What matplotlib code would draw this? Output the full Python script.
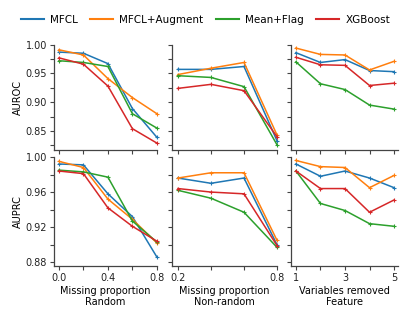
import matplotlib
matplotlib.use("Agg")
import matplotlib.pyplot as plt

methods = ["MFCL", "MFCL+Augment", "Mean+Flag", "XGBoost"]
colors = ["#1f77b4", "#ff7f0e", "#2ca02c", "#d62728"]

x_random = [0.0, 0.2, 0.4, 0.6, 0.8]
x_nonrandom = [0.2, 0.4, 0.6, 0.8]
x_feature = [1, 2, 3, 4, 5]

# AUROC
auroc_random = {
    "MFCL":         [0.987, 0.985, 0.967, 0.889, 0.839],
    "MFCL+Augment": [0.991, 0.982, 0.941, 0.908, 0.880],
    "Mean+Flag":    [0.972, 0.969, 0.962, 0.880, 0.855],
    "XGBoost":      [0.977, 0.966, 0.928, 0.854, 0.829],
}
auroc_nonrandom = {
    "MFCL":         [0.957, 0.957, 0.962, 0.833],
    "MFCL+Augment": [0.948, 0.959, 0.969, 0.843],
    "Mean+Flag":    [0.946, 0.943, 0.927, 0.826],
    "XGBoost":      [0.924, 0.931, 0.920, 0.840],
}
auroc_feature = {
    "MFCL":         [0.986, 0.969, 0.974, 0.955, 0.953],
    "MFCL+Augment": [0.994, 0.983, 0.982, 0.956, 0.971],
    "Mean+Flag":    [0.970, 0.932, 0.922, 0.895, 0.888],
    "XGBoost":      [0.978, 0.965, 0.964, 0.929, 0.933],
}

# AUPRC
auprc_random = {
    "MFCL":         [0.992, 0.991, 0.958, 0.932, 0.886],
    "MFCL+Augment": [0.995, 0.988, 0.952, 0.929, 0.902],
    "Mean+Flag":    [0.985, 0.983, 0.977, 0.927, 0.903],
    "XGBoost":      [0.984, 0.981, 0.942, 0.921, 0.904],
}
auprc_nonrandom = {
    "MFCL":         [0.976, 0.970, 0.976, 0.900],
    "MFCL+Augment": [0.976, 0.982, 0.982, 0.905],
    "Mean+Flag":    [0.962, 0.953, 0.937, 0.897],
    "XGBoost":      [0.964, 0.960, 0.958, 0.899],
}
auprc_feature = {
    "MFCL":         [0.992, 0.978, 0.984, 0.976, 0.965],
    "MFCL+Augment": [0.996, 0.989, 0.988, 0.965, 0.979],
    "Mean+Flag":    [0.984, 0.947, 0.939, 0.924, 0.921],
    "XGBoost":      [0.984, 0.964, 0.964, 0.937, 0.951],
}

plt.rcParams["font.family"] = "DejaVu Sans"
plt.rcParams["font.size"] = 7

fig = plt.figure(figsize=(4.15, 3.09), dpi=100)

cols = [(0.130, 0.248), (0.4145, 0.253), (0.701, 0.258)]
rows = [(0.5146, 0.341), (0.139, 0.353)]

xs = [x_random, x_nonrandom, x_feature]
xlims = [(-0.041, 0.8), (0.164, 0.8), (0.796, 5.16)]
xticks = [[0.0, 0.2, 0.4, 0.6, 0.8], [0.2, 0.4, 0.6, 0.8], [1, 2, 3, 4, 5]]
xticklabels = [["0.0", "", "0.4", "", "0.8"], ["0.2", "", "", "0.8"], ["1", "", "3", "", "5"]]
xlabels = ["Missing proportion\nRandom", "Missing proportion\nNon-random", "Variables removed\nFeature"]

data = [[auroc_random, auroc_nonrandom, auroc_feature],
        [auprc_random, auprc_nonrandom, auprc_feature]]
ylims = [(0.817, 1.0), (0.8757, 1.0)]
yticks = [[0.825, 0.85, 0.875, 0.90, 0.925, 0.95, 0.975, 1.00],
          [0.88, 0.90, 0.92, 0.94, 0.96, 0.98, 1.00]]
yticklabels = [["", "0.85", "", "0.90", "", "0.95", "", "1.00"],
               ["0.88", "", "0.92", "", "0.96", "", "1.00"]]
ylabels = ["AUROC", "AUPRC"]

axes = []
for r, (b, h) in enumerate(rows):
    for c, (l, w) in enumerate(cols):
        ax = fig.add_axes([l, b, w, h])
        axes.append(ax)
        for m, col in zip(methods, colors):
            ax.plot(xs[c], data[r][c][m], color=col, lw=1.1, marker="+", ms=3,
                    mew=0.8, label=m, clip_on=False)
        ax.set_xlim(*xlims[c])
        ax.set_ylim(*ylims[r])
        ax.set_xticks(xticks[c])
        ax.set_yticks(yticks[r])
        if c == 0:
            ax.set_yticklabels(yticklabels[r])
            ax.set_ylabel(ylabels[r], labelpad=2)
        else:
            ax.set_yticklabels([])
        if r == 1:
            ax.set_xticklabels(xticklabels[c])
            ax.set_xlabel(xlabels[c], labelpad=2, linespacing=1.2)
        else:
            ax.set_xticklabels([])
        for s in ["top", "right"]:
            ax.spines[s].set_visible(False)
        for s in ["left", "bottom"]:
            ax.spines[s].set_color("#444444")
            ax.spines[s].set_linewidth(0.9)
        ax.tick_params(length=3, width=0.8, color="#444444", pad=2, labelcolor="#222222")

handles, labels = axes[0].get_legend_handles_labels()
for hnd in handles:
    pass
fig.legend([plt.Line2D([], [], color=c, lw=1.5) for c in colors], methods,
           loc="center", bbox_to_anchor=(0.495, 0.935), ncol=4, frameon=False,
           fontsize=7.5, handlelength=2.2, columnspacing=1.2, handletextpad=0.6)

fig.savefig("out.png", dpi=100)
